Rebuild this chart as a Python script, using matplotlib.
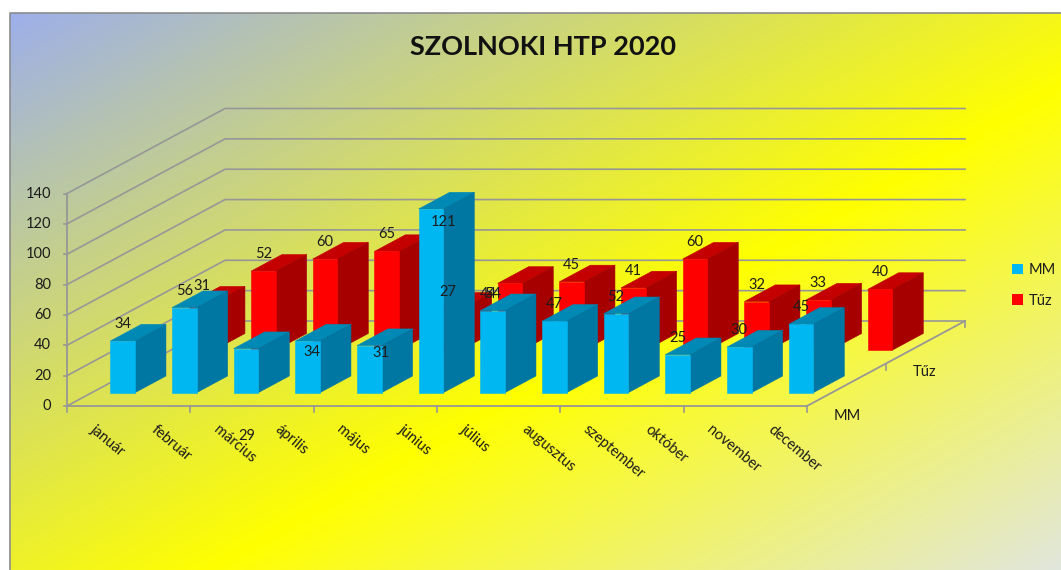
from matplotlib import pyplot as plt
from matplotlib.patches import Patch, Polygon
import numpy as np

months = ['január', 'február', 'március', 'április', 'május', 'június',
          'július', 'augusztus', 'szeptember', 'október', 'november', 'december']
mm_values = [34, 56, 29, 34, 31, 121, 54, 47, 52, 25, 30, 45]
tuz_values = [31, 52, 60, 65, 27, 44, 45, 41, 60, 32, 33, 40]
y_ticks = [0, 20, 40, 60, 80, 100, 120, 140]

# dragged data labels in the original, pixels from the default spot
mm_label_shift = {2: (1, 104), 3: (4, 28), 4: (12, 24), 5: (13, 30)}
tuz_label_shift = {5: (-22, 28)}

W, H = 1061, 570
ORIGIN_X, ORIGIN_Y = 67.0, 406.0
CAT_W = 740 / 12
UNIT = 212.5 / 140
DEPTH_X, DEPTH_Y = 158.0, -85.0

FONT = 'Lato'
TEXT = '#1c1c1c'
GRID = '#979797'


def project(cat, val, depth):
    # category position, value, depth 0..1 -> pixel position
    return (ORIGIN_X + cat * CAT_W + depth * DEPTH_X,
            ORIGIN_Y - val * UNIT + depth * DEPTH_Y)


def draw_bar(ax, i, val, series, front, side, top):
    c0, c1 = i + 0.3, i + 0.7
    d0, d1 = series * 0.5 + 0.157, series * 0.5 + 0.353
    faces = [
        ([(c0, val, d0), (c1, val, d0), (c1, val, d1), (c0, val, d1)], top),
        ([(c1, 0, d0), (c1, 0, d1), (c1, val, d1), (c1, val, d0)], side),
        ([(c0, 0, d0), (c1, 0, d0), (c1, val, d0), (c0, val, d0)], front),
    ]
    for pts, col in faces:
        ax.add_patch(Polygon([project(*p) for p in pts], closed=True,
                             facecolor=col, edgecolor=col, linewidth=0.4, zorder=3))


def draw_label(ax, i, val, series, shift):
    x, y = project(i + 0.5, val, series * 0.5 + 0.157)
    dx, dy = shift.get(i, (0, 0))
    ax.text(x + dx, y - 17 + dy, str(val), ha='center', va='center',
            fontsize=10.5, family=FONT, color=TEXT, zorder=5)


fig = plt.figure(figsize=(W / 100, H / 100), dpi=100, facecolor='white')
ax = fig.add_axes([0, 0, 1, 1])
ax.set_xlim(0, W)
ax.set_ylim(H, 0)
ax.axis('off')

# diagonal background gradient
xx, yy = np.meshgrid(np.arange(10, W), np.arange(13, H))
t = (370 * xx + 650 * yy - 12150) / (763000 - 12150)
stops = [0, 0.58, 1]
blue, yellow, pale = (157, 175, 235), (255, 255, 0), (225, 230, 222)
grad = np.dstack([np.interp(t, stops, [blue[k], yellow[k], pale[k]]) for k in range(3)]) / 255
ax.imshow(grad, extent=(10, W, H, 13), aspect='auto', zorder=0)
ax.set_xlim(0, W)
ax.set_ylim(H, 0)
ax.plot([9.5, 9.5, W], [H, 12.5, 12.5], color='#8c8c8c', lw=1.2, zorder=1)

# walls
for v in y_ticks:
    xs, ys = zip(project(0, v, 0), project(0, v, 1), project(12, v, 1))
    ax.plot(xs, ys, color=GRID, lw=1.2, zorder=2)
    x0, y0 = project(0, v, 0)
    ax.plot([x0 - 3, x0], [y0, y0], color=GRID, lw=1.2, zorder=2)
    ax.text(x0 - 16, y0, str(v), ha='right', va='center', fontsize=10.5,
            family=FONT, color=TEXT)

# axes
xs, ys = zip(project(0, 0, 0), project(0, 140, 0))
ax.plot(xs, ys, color=GRID, lw=1.3, zorder=2)
xs, ys = zip(project(0, 0, 0), project(12, 0, 0), project(12, 0, 1))
ax.plot(xs, ys, color=GRID, lw=1.3, zorder=2)
for c in range(0, 13, 2):
    x0, y0 = project(c, 0, 0)
    ax.plot([x0, x0], [y0, y0 + 6], color=GRID, lw=1.2, zorder=2)
for d in (0.5, 1):
    x0, y0 = project(12, 0, d)
    ax.plot([x0, x0], [y0, y0 + 6], color=GRID, lw=1.2, zorder=2)

# bars, back row first
for i, val in enumerate(tuz_values):
    draw_bar(ax, i, val, 1, '#ff0000', '#a60000', '#c50000')
for i, val in enumerate(mm_values):
    draw_bar(ax, i, val, 0, '#00b7f1', '#0076a3', '#0089b5')
for i, val in enumerate(tuz_values):
    draw_label(ax, i, val, 1, tuz_label_shift)
for i, val in enumerate(mm_values):
    draw_label(ax, i, val, 0, mm_label_shift)

# category labels
for i, name in enumerate(months):
    x0, y0 = project(i + 0.5, 0, 0)
    ax.text(x0 - 6, y0 + 22, name, rotation=-40, rotation_mode='anchor',
            ha='left', va='center', fontsize=10.5, family=FONT, color=TEXT, zorder=4)

# series labels
ax.text(847, 416, 'MM', ha='center', va='center', fontsize=10.5, family=FONT, color=TEXT)
ax.text(925, 372, 'Tűz', ha='center', va='center', fontsize=10.5, family=FONT, color=TEXT)

ax.text(543, 47, 'SZOLNOKI HTP 2020', ha='center', va='center', fontsize=19.5,
        fontweight='bold', family=FONT, color='#111111')

handles = [Patch(facecolor='#00b7f1', label='MM'), Patch(facecolor='#ff0000', label='Tűz')]
ax.legend(handles=handles, loc='upper left', bbox_to_anchor=(1012 / W, 1 - 263 / H),
          frameon=False, handlelength=0.72, handleheight=0.72, handletextpad=0.4,
          labelspacing=1.15, borderpad=0, borderaxespad=0,
          prop={'family': FONT, 'size': 10.5}, labelcolor=TEXT)

fig.savefig('out.png', dpi=100, facecolor='white')
